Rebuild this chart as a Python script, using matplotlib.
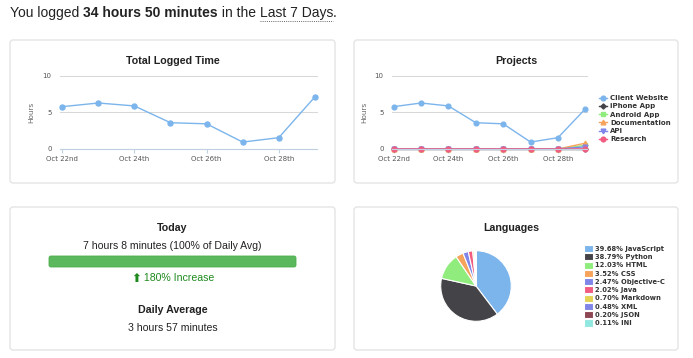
import matplotlib
matplotlib.use("Agg")
import matplotlib.pyplot as plt
from matplotlib.patches import FancyBboxPatch
from matplotlib.lines import Line2D
from matplotlib.transforms import IdentityTransform

W, H = 693, 358

days = ["Oct 22nd", "Oct 23rd", "Oct 24th", "Oct 25th", "Oct 26th", "Oct 27th", "Oct 28th", "Oct 29th"]
total_hours = [5.8, 6.3, 5.9, 3.6, 3.45, 0.95, 1.55, 7.13]

project_names = ["Client Website", "iPhone App", "Android App", "Documentation", "API", "Research"]
client_website = [5.8, 6.3, 5.9, 3.6, 3.45, 0.95, 1.55, 5.5]
iphone_app = [0, 0, 0, 0, 0, 0, 0, 0]
android_app = [0, 0, 0, 0, 0, 0, 0, 0.5]
documentation = [0, 0, 0, 0, 0, 0, 0, 0.8]
api = [0, 0, 0, 0, 0, 0, 0, 0.3]
research = [0, 0, 0, 0, 0, 0, 0, 0.02]

languages = ["JavaScript", "Python", "HTML", "CSS", "Objective-C", "Java", "Markdown", "XML", "JSON", "INI"]
lang_pct = [39.68, 38.79, 12.03, 3.52, 2.47, 2.02, 0.70, 0.48, 0.20, 0.11]

colors = ["#7cb5ec", "#434348", "#90ed7d", "#f7a35c", "#8085e9",
          "#f15c80", "#e4d354", "#8085e8", "#8d4653", "#91e8e1"]
markers = ["o", "D", "s", "^", "v", "o"]

sans = "Liberation Sans"
small = "DejaVu Sans"

fig = plt.figure(figsize=(W / 100, H / 100), dpi=100)
fig.patch.set_facecolor("white")
renderer = fig.canvas.get_renderer()


def fx(x):
    return x / W


def fy(y):
    return 1 - y / H


def card(x0, y0, x1, y1):
    fig.patches.append(FancyBboxPatch((x0, H - y1), x1 - x0, y1 - y0,
                                      boxstyle="round,pad=0,rounding_size=3",
                                      transform=IdentityTransform(), facecolor="white",
                                      edgecolor="#e2e2e2", lw=0.9, zorder=-5))


card(10, 40, 335, 183)
card(354, 40, 678, 183)
card(10, 207, 335, 350)
card(354, 207, 678, 350)

# header line
parts = [("You logged ", "normal"), ("34 hours 50 minutes", "bold"),
         (" in the ", "normal"), ("Last 7 Days", "normal"), (".", "normal")]
x = 10
for s, w in parts:
    t = fig.text(fx(x), fy(17), s, fontsize=10.0, family=sans, weight=w,
                 color="#222222", va="baseline", ha="left")
    bb = t.get_window_extent(renderer)
    if s == "Last 7 Days":
        fig.lines.append(Line2D([x, x + bb.width], [H - 20.5, H - 20.5],
                                transform=IdentityTransform(), color="#666666",
                                lw=0.7, ls=(0, (1, 1.2))))
    x += bb.width


def style_axes(ax):
    ax.set_facecolor("none")
    ax.set_ylim(0, 10)
    ax.set_yticks([0, 5, 10])
    ax.set_xlim(-0.06, 7.06)
    ax.set_xticks([0, 2, 4, 6])
    ax.set_xticklabels([days[i] for i in [0, 2, 4, 6]])
    for s in ["top", "left", "right"]:
        ax.spines[s].set_visible(False)
    ax.spines["bottom"].set_color("#c0d0e0")
    ax.spines["bottom"].set_linewidth(0.8)
    ax.yaxis.grid(True, color="#d8d8d8", lw=0.75, clip_on=False)
    ax.set_axisbelow(True)
    ax.tick_params(axis="x", length=3, color="#c0d0e0", width=0.8, pad=2,
                   labelsize=5.0, labelcolor="#555555")
    ax.tick_params(axis="y", length=0, pad=6, labelsize=5.0, labelcolor="#555555")
    for lab in ax.get_xticklabels() + ax.get_yticklabels():
        lab.set_family(small)
    ax.set_ylabel("Hours", fontsize=5.2, family=small, color="#666666")


# Total Logged Time
ax1 = fig.add_axes([fx(60), fy(149), (317 - 60) / W, 73 / H])
style_axes(ax1)
ax1.yaxis.set_label_coords(-0.101, 0.5)
ax1.plot(range(len(days)), total_hours, color=colors[0], lw=1.0, marker="o",
         markersize=3.6, clip_on=False)
fig.text(fx(172.5), fy(61), "Total Logged Time", fontsize=7.7, family=sans,
         weight="bold", ha="center", va="center", color="#222222")

# Projects
ax2 = fig.add_axes([fx(392), fy(149), (587 - 392) / W, 73 / H])
style_axes(ax2)
ax2.yaxis.set_label_coords(-0.128, 0.5)
series = [client_website, iphone_app, android_app, documentation, api, research]
for i, (name, vals) in enumerate(zip(project_names, series)):
    ax2.plot(range(len(days)), vals, color=colors[i],
             lw=1.0, marker=markers[i], markersize=3.4 if markers[i] != "D" else 2.6,
             label=name, clip_on=False)
fig.text(fx(516), fy(61), "Projects", fontsize=7.7, family=sans,
         weight="bold", ha="center", va="center", color="#222222")
leg = ax2.legend(loc="upper left", bbox_to_anchor=(fx(599), fy(95)),
                 bbox_transform=fig.transFigure, frameon=False,
                 prop={"family": small, "weight": "bold", "size": 5.0},
                 handlelength=1.2, handletextpad=0.4, labelspacing=0.33,
                 borderpad=0, borderaxespad=0, markerscale=1.0)
for t in leg.get_texts():
    t.set_color("#333333")

# Today panel
cx = 172.5
fig.text(fx(cx), fy(228), "Today", fontsize=7.7, family=sans, weight="bold",
         ha="center", va="center", color="#222222")
fig.text(fx(cx), fy(246), "7 hours 8 minutes (100% of Daily Avg)", fontsize=7.6,
         family=sans, ha="center", va="center", color="#222222")
fig.patches.append(FancyBboxPatch((49, H - 267), 247, 11,
                                  boxstyle="round,pad=0,rounding_size=2",
                                  transform=IdentityTransform(), facecolor="#5cb85c",
                                  edgecolor="#4cae4c", lw=0.6))
green = "#1e8a1e"
arrow = fig.text(0, fy(278), "\u2b06", fontsize=8.5, family="DejaVu Sans", weight="bold",
                 ha="left", va="center", color=green)
inc = fig.text(0, fy(278), " 180% Increase", fontsize=7.6, family=sans,
               ha="left", va="center", color=green)
wa = arrow.get_window_extent(renderer).width
wi = inc.get_window_extent(renderer).width
x0 = cx - (wa + wi) / 2
arrow.set_x(fx(x0))
inc.set_x(fx(x0 + wa))
fig.text(fx(cx), fy(310), "Daily Average", fontsize=7.7, family=sans, weight="bold",
         ha="center", va="center", color="#222222")
fig.text(fx(cx), fy(328), "3 hours 57 minutes", fontsize=7.6, family=sans,
         ha="center", va="center", color="#222222")

# Languages
fig.text(fx(511), fy(228), "Languages", fontsize=7.7, family=sans, weight="bold",
         ha="center", va="center", color="#222222")
ax3 = fig.add_axes([fx(440), fy(322), 72 / W, 72 / H])
wedges, _ = ax3.pie(lang_pct, colors=colors, startangle=90, counterclock=False,
                    wedgeprops={"edgecolor": "white", "linewidth": 0.8})
ax3.set_xlim(-1.02, 1.02)
ax3.set_ylim(-1.02, 1.02)
labels = ["%.2f%% %s" % (p, n) for p, n in zip(lang_pct, languages)]
leg2 = ax3.legend(wedges, labels, loc="upper left", bbox_to_anchor=(fx(584), fy(245)),
                  bbox_transform=fig.transFigure, frameon=False,
                  prop={"family": small, "weight": "bold", "size": 4.85},
                  handlelength=1.35, handleheight=1.25, handletextpad=0.25,
                  labelspacing=0.17, borderpad=0, borderaxespad=0)
for t in leg2.get_texts():
    t.set_color("#333333")

fig.savefig("out.png", dpi=100)
